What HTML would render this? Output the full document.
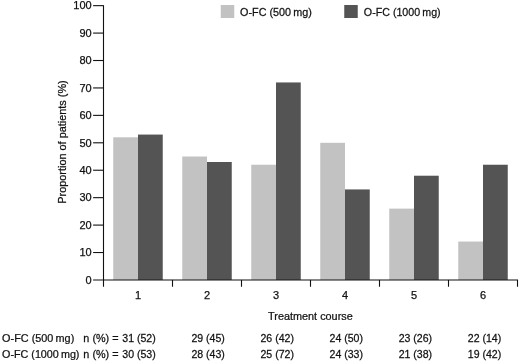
<!DOCTYPE html><html><head><meta charset="utf-8"><title>chart</title><style>html,body{margin:0;padding:0;background:#fff}svg{display:block;will-change:transform}text{font-family:"Liberation Sans",sans-serif;font-size:11px;fill:#111111;stroke:#111111;stroke-width:0.25}</style></head><body>
<svg width="520" height="364" viewBox="0 0 520 364">
<rect x="113.25" y="137.31" width="24.75" height="142.64" fill="#c2c2c2"/>
<rect x="138.00" y="134.57" width="24.75" height="145.38" fill="#545454"/>
<rect x="182.25" y="156.51" width="24.75" height="123.43" fill="#c2c2c2"/>
<rect x="207.00" y="162.00" width="24.75" height="117.95" fill="#545454"/>
<rect x="251.25" y="164.74" width="24.75" height="115.21" fill="#c2c2c2"/>
<rect x="276.00" y="82.45" width="24.75" height="197.50" fill="#545454"/>
<rect x="320.25" y="142.80" width="24.75" height="137.15" fill="#c2c2c2"/>
<rect x="345.00" y="189.43" width="24.75" height="90.52" fill="#545454"/>
<rect x="389.25" y="208.63" width="24.75" height="71.32" fill="#c2c2c2"/>
<rect x="414.00" y="175.72" width="24.75" height="104.23" fill="#545454"/>
<rect x="458.25" y="241.55" width="24.75" height="38.40" fill="#c2c2c2"/>
<rect x="483.00" y="164.74" width="24.75" height="115.21" fill="#545454"/>
<g stroke="#111111" stroke-width="1.1" fill="none">
<path d="M103.50 5.15 V286.75"/>
<path d="M93.10 279.95 H518.00"/>
<path d="M93.10 252.52 H103.50"/>
<path d="M93.10 225.09 H103.50"/>
<path d="M93.10 197.66 H103.50"/>
<path d="M93.10 170.23 H103.50"/>
<path d="M93.10 142.80 H103.50"/>
<path d="M93.10 115.37 H103.50"/>
<path d="M93.10 87.94 H103.50"/>
<path d="M93.10 60.51 H103.50"/>
<path d="M93.10 33.08 H103.50"/>
<path d="M93.10 5.65 H103.50"/>
<path d="M172.50 279.95 V286.75"/>
<path d="M241.50 279.95 V286.75"/>
<path d="M310.50 279.95 V286.75"/>
<path d="M379.50 279.95 V286.75"/>
<path d="M448.50 279.95 V286.75"/>
<path d="M517.50 279.95 V286.75"/>
</g>
<text transform="translate(91.70 283.65) scale(1.000 1)" text-anchor="end">0</text>
<text transform="translate(91.70 256.22) scale(1.000 1)" text-anchor="end">10</text>
<text transform="translate(91.70 228.79) scale(1.000 1)" text-anchor="end">20</text>
<text transform="translate(91.70 201.36) scale(1.000 1)" text-anchor="end">30</text>
<text transform="translate(91.70 173.93) scale(1.000 1)" text-anchor="end">40</text>
<text transform="translate(91.70 146.50) scale(1.000 1)" text-anchor="end">50</text>
<text transform="translate(91.70 119.07) scale(1.000 1)" text-anchor="end">60</text>
<text transform="translate(91.70 91.64) scale(1.000 1)" text-anchor="end">70</text>
<text transform="translate(91.70 64.21) scale(1.000 1)" text-anchor="end">80</text>
<text transform="translate(91.70 36.78) scale(1.000 1)" text-anchor="end">90</text>
<text transform="translate(91.70 9.35) scale(1.000 1)" text-anchor="end">100</text>
<text transform="translate(138.00 299.30) scale(1.000 1)" text-anchor="middle">1</text>
<text transform="translate(207.00 299.30) scale(1.000 1)" text-anchor="middle">2</text>
<text transform="translate(276.00 299.30) scale(1.000 1)" text-anchor="middle">3</text>
<text transform="translate(345.00 299.30) scale(1.000 1)" text-anchor="middle">4</text>
<text transform="translate(414.00 299.30) scale(1.000 1)" text-anchor="middle">5</text>
<text transform="translate(483.00 299.30) scale(1.000 1)" text-anchor="middle">6</text>
<text transform="translate(310.40 320.15) scale(0.988 1)" text-anchor="middle">Treatment course</text>
<text transform="translate(65.80 142.00) rotate(-90) scale(0.991 1)" text-anchor="middle">Proportion of patients (%)</text>
<rect x="220.75" y="5" width="13.5" height="13" fill="#c2c2c2"/>
<text transform="translate(240.10 16.00) scale(0.983 1)">O-FC (500&#8201;mg)</text>
<rect x="344.25" y="5" width="13.5" height="13" fill="#545454"/>
<text transform="translate(363.85 16.00) scale(0.971 1)">O-FC (1000&#8201;mg)</text>
<text transform="translate(2.10 342.30) scale(0.988 1)">O-FC (500&#8201;mg)</text>
<text transform="translate(83.35 342.30) scale(0.985 1)">n (%) =</text>
<text transform="translate(2.10 358.30) scale(0.978 1)">O-FC (1000&#8201;mg)</text>
<text transform="translate(83.35 358.30) scale(0.985 1)">n (%) =</text>
<text transform="translate(139.00 342.30) scale(0.960 1)" text-anchor="middle">31 (52)</text>
<text transform="translate(139.00 358.30) scale(0.960 1)" text-anchor="middle">30 (53)</text>
<text transform="translate(208.10 342.30) scale(0.960 1)" text-anchor="middle">29 (45)</text>
<text transform="translate(208.10 358.30) scale(0.960 1)" text-anchor="middle">28 (43)</text>
<text transform="translate(277.20 342.30) scale(0.960 1)" text-anchor="middle">26 (42)</text>
<text transform="translate(277.20 358.30) scale(0.960 1)" text-anchor="middle">25 (72)</text>
<text transform="translate(346.30 342.30) scale(0.960 1)" text-anchor="middle">24 (50)</text>
<text transform="translate(346.30 358.30) scale(0.960 1)" text-anchor="middle">24 (33)</text>
<text transform="translate(415.40 342.30) scale(0.960 1)" text-anchor="middle">23 (26)</text>
<text transform="translate(415.40 358.30) scale(0.960 1)" text-anchor="middle">21 (38)</text>
<text transform="translate(484.50 342.30) scale(0.960 1)" text-anchor="middle">22 (14)</text>
<text transform="translate(484.50 358.30) scale(0.960 1)" text-anchor="middle">19 (42)</text>
</svg></body></html>
